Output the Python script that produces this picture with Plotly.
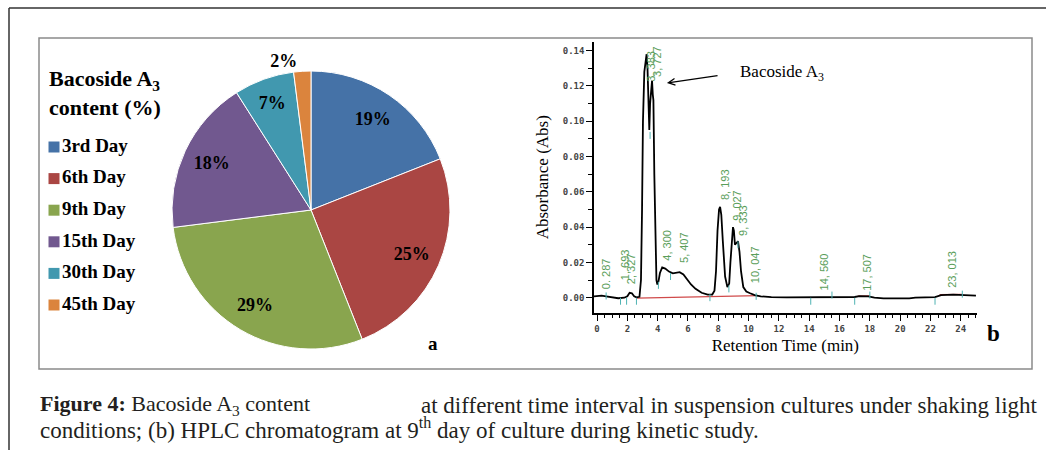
import plotly.graph_objects as go

W, H = 1046, 450
def px(x): return x / W
def py(y): return 1 - y / H

SERIF = "Liberation Serif, Times New Roman, serif"
MONO = "DejaVu Sans Mono, monospace"

# ---------------- data: pie ----------------
days = ["3rd Day", "6th Day", "9th Day", "15th Day", "30th Day", "45th Day"]
content = [19, 25, 29, 18, 7, 2]
slice_colors = ["#4572A7", "#AA4643", "#89A54E", "#71588F", "#4198AF", "#DB843D"]

# ---------------- data: chromatogram ----------------
rt = [-0.2, 0.0, 0.3, 0.6, 1.0, 1.4, 1.8, 2.0, 2.15, 2.3, 2.45, 2.6, 2.8, 2.9, 2.97, 3.03,
      3.12, 3.2, 3.27, 3.33, 3.4, 3.45, 3.5, 3.58, 3.63, 3.68, 3.72, 3.78, 3.85, 3.92, 3.98,
      4.05, 4.15, 4.3, 4.5, 4.75, 5.0, 5.25, 5.45, 5.7, 5.95, 6.2, 6.5, 6.9, 7.3, 7.6, 7.75,
      7.85, 7.95, 8.05, 8.12, 8.2, 8.3, 8.45, 8.6, 8.72, 8.8, 8.9, 8.97, 9.03, 9.1, 9.2, 9.3,
      9.4, 9.5, 9.65, 9.85, 10.1, 10.4, 10.8, 11.5, 12.5, 14.0, 16.0, 17.0, 17.3, 17.9, 18.3,
      18.9, 20.6, 21.0, 22.3, 22.7, 23.5, 24.2, 25.0]
absorb = [0.0008, 0.001, 0.0012, 0.0008, 0.0003, -0.0003, 0.0, 0.0008, 0.0028, 0.0025, 0.0008,
          0.0002, 0.0005, 0.01, 0.05, 0.1, 0.128, 0.135, 0.138, 0.13, 0.105, 0.095, 0.11, 0.122,
          0.123, 0.115, 0.112, 0.07, 0.03, 0.01, 0.0075, 0.009, 0.014, 0.0172, 0.0165, 0.0148,
          0.0138, 0.0142, 0.0145, 0.0132, 0.0105, 0.0075, 0.005, 0.0028, 0.0017, 0.0018, 0.004,
          0.015, 0.038, 0.05, 0.0515, 0.047, 0.032, 0.012, 0.006, 0.008, 0.02, 0.03, 0.04, 0.038,
          0.03, 0.031, 0.032, 0.026, 0.015, 0.006, 0.0035, 0.0025, 0.0015, 0.0008, 0.0003, 0.0002,
          0.0002, 0.0003, 0.0004, 0.0009, 0.0008, 0.0, -0.0004, -0.0004, 0.0001, 0.0003, 0.0015,
          0.0017, 0.0013, 0.0012]

base_rt = [2.6, 10.6, None, 17.2, 18.0, None, 22.6, 24.1]
base_abs = [-0.0002, 0.0012, None, 0.0009, 0.0011, None, 0.0017, 0.0019]

mark_rt = [0.6, 1.55, 1.95, 2.6, 3.5, 4.05, 4.85, 7.45, 8.7, 9.3, 10.5, 14.1, 15.5, 17.0, 18.0, 22.3, 24.1]
mark_abs = [0.001, -0.002, -0.002, -0.002, 0.092, 0.007, 0.012, 0.0, 0.005, 0.03, 0.0008,
            -0.002, 0.0015, -0.002, 0.0015, -0.002, 0.002]

peak_rt = [0.6, 1.85, 2.29, 3.5, 4.0, 4.6, 5.74, 8.45, 9.22, 9.62, 10.43, 14.94, 17.8, 23.41]
peak_txt = ["0. 287", "1, 693", "2, 327", "3, 383", "3, 727", "4, 300", "5, 407", "8, 193",
            "9, 027", "9, 333", "10, 047", "14, 560", "17, 507", "23, 013"]
peak_lbl_y = [0.0134, 0.0185, 0.0166, 0.131, 0.134, 0.0299, 0.0282, 0.0639, 0.0525, 0.044,
              0.0185, 0.0146, 0.0146, 0.0163]

y_ticks = [0.0, 0.02, 0.04, 0.06, 0.08, 0.10, 0.12, 0.14]

PIE_DOMAIN = dict(x=[px(172), px(450)], y=[py(349), py(71)])

fig = go.Figure()

# pie (coloured slices)
fig.add_trace(go.Pie(
    labels=days, values=content, sort=False, direction="clockwise", rotation=0,
    marker=dict(colors=slice_colors, line=dict(color="white", width=1)),
    textinfo="none", domain=PIE_DOMAIN, showlegend=False, hoverinfo="label+percent",
))
# same pie as a transparent ring, carrying the percentage labels further out
fig.add_trace(go.Pie(
    labels=days, values=content, sort=False, direction="clockwise", rotation=0, hole=0.58,
    marker=dict(colors=["rgba(0,0,0,0)"] * len(days), line=dict(width=0)),
    texttemplate="%{value}%", textposition=["inside"] * 5 + ["outside"],
    insidetextorientation="horizontal",
    textfont=dict(family=SERIF, size=18, color="black", weight="bold"),
    domain=PIE_DOMAIN, showlegend=False, hoverinfo="skip",
))

# legend built as scatter
fig.add_trace(go.Scatter(
    x=[0] * len(days), y=list(range(len(days))), mode="markers+text", text=days,
    textposition="middle right",
    marker=dict(symbol="square", size=11, color=slice_colors),
    textfont=dict(family=SERIF, size=19, color="black", weight="bold"),
    xaxis="x2", yaxis="y2", showlegend=False, cliponaxis=False, hoverinfo="skip",
))

# chromatogram
fig.add_trace(go.Scatter(x=base_rt, y=base_abs, mode="lines",
                         line=dict(color="#d04a4a", width=1.2), showlegend=False, hoverinfo="skip"))
fig.add_trace(go.Scatter(x=rt, y=absorb, mode="lines",
                         line=dict(color="black", width=1.8), showlegend=False))
fig.add_trace(go.Scatter(x=mark_rt, y=mark_abs, mode="markers",
                         marker=dict(symbol="line-ns", size=5, line=dict(color="#4fb3b3", width=1)),
                         showlegend=False, hoverinfo="skip"))

annotations = []
for t, s, v in zip(peak_rt, peak_txt, peak_lbl_y):
    annotations.append(dict(x=t, y=v, xref="x", yref="y", text=s, textangle=-90, showarrow=False,
                            font=dict(family="Liberation Sans, Arial, sans-serif", size=11, color="#5a9e5a"),
                            xanchor="center", yanchor="middle"))

annotations += [
    dict(x=4.61, y=0.1217, xref="x", yref="y", ax=8.05, ay=0.126, axref="x", ayref="y",
         showarrow=True, arrowhead=5, arrowsize=1.1, arrowwidth=1.2, arrowcolor="black", text=""),
    dict(x=12.2, y=0.1274, xref="x", yref="y", text="Bacoside A<sub>3</sub>", showarrow=False,
         font=dict(family=SERIF, size=17, color="black")),
    dict(x=px(47), y=py(64), xref="paper", yref="paper", xanchor="left", yanchor="top", align="left",
         text="<b>Bacoside A<sub>3</sub><br>content (%)</b>", showarrow=False,
         font=dict(family=SERIF, size=22, color="black")),
    dict(x=px(433), y=py(356), xref="paper", yref="paper", text="<b>a</b>", showarrow=False,
         font=dict(family=SERIF, size=19, color="black")),
    dict(x=px(1002), y=py(348), xref="paper", yref="paper", text="<b>b</b>", showarrow=False,
         font=dict(family=SERIF, size=23, color="black")),
    dict(x=px(38), y=py(405), xref="paper", yref="paper", xanchor="left", yanchor="middle",
         text="<b>Figure 4:</b> Bacoside A<sub>3</sub> content", showarrow=False,
         font=dict(family=SERIF, size=22, color="#231f20")),
    dict(x=px(1040), y=py(405), xref="paper", yref="paper", xanchor="right", yanchor="middle",
         text="at different time interval in suspension cultures under shaking light", showarrow=False,
         font=dict(family=SERIF, size=23, color="#231f20")),
    dict(x=px(38), y=py(428), xref="paper", yref="paper", xanchor="left", yanchor="middle",
         text="conditions; (b) HPLC chromatogram at 9<sup>th</sup> day of culture during kinetic study.",
         showarrow=False, font=dict(family=SERIF, size=23, color="#231f20")),
]

shapes = [
    dict(type="line", xref="paper", yref="paper", x0=px(9), x1=1, y0=py(8), y1=py(8),
         line=dict(color="#333333", width=1.5)),
    dict(type="line", xref="paper", yref="paper", x0=px(9), x1=px(9), y0=py(8), y1=0,
         line=dict(color="#333333", width=1.5)),
    dict(type="rect", xref="paper", yref="paper", x0=px(39), x1=px(1032), y0=py(369), y1=py(38),
         line=dict(color="#8a8a8a", width=1.5)),
]

fig.update_layout(
    width=W, height=H, autosize=False, margin=dict(l=0, r=0, t=0, b=0),
    paper_bgcolor="white", plot_bgcolor="white",
    xaxis=dict(domain=[px(594), px(976.7)], range=[-0.2, 25.05], anchor="y",
               showline=True, linecolor="black", linewidth=1.5, mirror=False,
               ticks="outside", ticklen=7, tickwidth=1.2, tickcolor="black",
               tick0=0, dtick=2, showgrid=False, zeroline=False,
               minor=dict(dtick=0.5, ticklen=4, ticks="outside", tickcolor="black", tickwidth=1),
               tickfont=dict(family=MONO, size=9, color="#444444", weight="bold"),
               title=dict(text="Retention Time (min)", standoff=6,
                          font=dict(family=SERIF, size=17, color="black"))),
    yaxis=dict(domain=[py(312.7), py(41.7)], range=[-0.0085, 0.1451], anchor="x",
               showline=True, linecolor="black", linewidth=1.5,
               ticks="outside", ticklen=6, tickwidth=1.2, tickcolor="black",
               tickvals=y_ticks, tickformat=".2f", showgrid=False, zeroline=False,
               minor=dict(dtick=0.01, ticklen=4, ticks="outside", tickcolor="black", tickwidth=1),
               tickfont=dict(family=MONO, size=9, color="#444444", weight="bold"),
               title=dict(text="Absorbance (Abs)", standoff=10,
                          font=dict(family=SERIF, size=17, color="black"))),
    xaxis2=dict(domain=[px(47), px(200)], range=[-7, 146], visible=False, anchor="y2"),
    yaxis2=dict(domain=[py(320.8), py(131.2)], range=[5.5, -0.5], visible=False, anchor="x2"),
    annotations=annotations, shapes=shapes,
)

fig.write_html("out.html", config={"displayModeBar": False},
               post_script="document.body.style.margin='0px';document.body.style.padding='0px';")
